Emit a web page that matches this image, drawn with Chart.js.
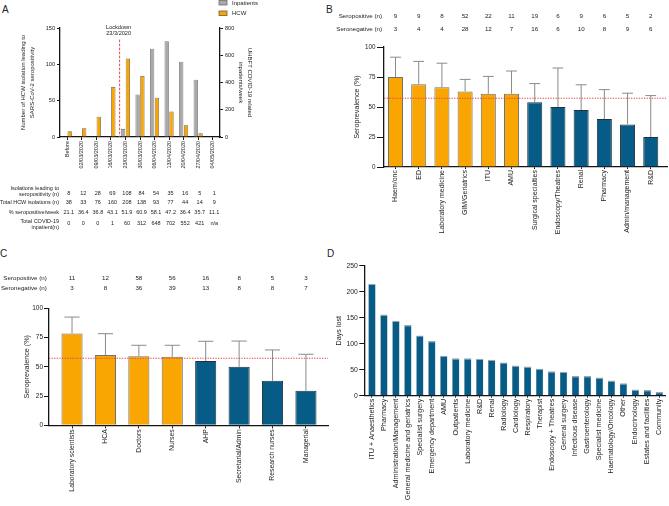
<!DOCTYPE html>
<html><head><meta charset="utf-8">
<script src="https://cdn.jsdelivr.net/npm/chart.js@4.4.1/dist/chart.umd.min.js"></script>
<style>
html,body{margin:0;padding:0;background:#fff;overflow:hidden;width:669px;height:506px;position:relative}
canvas{position:absolute}
.lbl{position:absolute;font-family:'Liberation Sans',Arial,sans-serif;font-size:10px;line-height:10px;color:#222}
</style></head><body>
<div class="lbl" style="left:2px;top:5px">A</div>
<div class="lbl" style="left:326px;top:5px">B</div>
<div class="lbl" style="left:0px;top:249px">C</div>
<div class="lbl" style="left:327px;top:249px">D</div>
<script>
// ---------- DATA ----------
// Panel A
const weekLabels = ['Before','02/03/2020','09/03/2020','16/03/2020','23/03/2020','30/03/2020','06/04/2020','13/04/2020','20/04/2020','27/04/2020','04/05/2020'];
const hcwIsolationsSeropos = [8,12,28,69,108,84,54,35,16,5,1];
const totalHcwIsolations = [38,33,76,160,208,138,93,77,44,14,9];
const pctSeroposWeek = [21.1,36.4,36.8,43.1,51.9,60.9,58.1,47.2,36.4,35.7,11.1];
const inpatientsWeek = [0,0,0,1,60,312,648,702,552,421,null];
const leftTicksA = [0,50,100,150];
const rightTicksA = [0,200,400,600,800];
const LOCKDOWN_AT = 3.6;
// Panel B
const deptLabels = ['Haem/onc','ED','Laboratory medicine','GIM/Geriatrics','ITU','AMU','Surgical specialties','Endoscopy/Theatres','Renal','Pharmacy','Admin/management','R&D'];
const deptSeroprev = [75,69,66.5,63,61,61,54,50,47.5,40,35.5,25];
const deptUpperCI = [91.5,88,86.5,73,75.5,80,69.5,82.5,68.5,64.5,61.5,59.5];
const deptSeropos = [9,9,8,52,22,11,19,6,9,6,5,2];
const deptSeroneg = [3,4,4,28,12,7,16,6,10,8,9,6];
// Panel C
const roleLabels = ['Laboratory scientists','HCA','Doctors','Nurses','AHP','Secretarial/Admin','Research nurses','Managerial'];
const roleSeroprev = [78.5,60,59,58.5,55,50,38,29.5];
const roleUpperCI = [92.5,78.3,68.4,68.4,71.8,72,64.4,60.7];
const roleSeropos = [11,12,58,56,16,8,5,3];
const roleSeroneg = [3,8,36,39,13,8,8,7];
const OVERALL_SEROPREV = 57.3;
const seroTicks = [0,25,50,75,100];
// Panel D
const areaLabels = ['ITU + Anaesthetics','Pharmacy','Administration/Management','General medicine and geriatrics','Specialist surgery','Emergency department','AMU','Outpatients','Laboratory medicine','R&D','Renal','Radiology','Cardiology','Respiratory','Therapist','Endoscopy + Theatres','General surgery','Infectious disease','Gastroenterology','Specialist medicine','Haematology/Oncology','Other','Endocrinology','Estates and facilities','Community'];
const areaDaysLost = [215,156,144,136,116,105,77,72,72,71,69,64,58,56,52,47,46,38,38,35,29,24,12,11,7];
const daysTicks = [0,50,100,150,200,250];

// ---------- STYLE ----------
const FONT = "'Liberation Sans', Arial, Helvetica, sans-serif";
const TEXT = '#1c1c1c';
Chart.defaults.font.family = FONT;
Chart.defaults.color = TEXT;
Chart.defaults.animation = false;
Chart.defaults.plugins.legend.display = false;
Chart.defaults.plugins.tooltip.enabled = false;
const INK = '#141414';
const ORANGE = '#F9A602';
const BLUE = '#065C86';
const GREY = '#A9A9A9';
const REFRED = '#E0464E';

function mkCanvas(left, top, w, h) {
  const c = document.createElement('canvas');
  c.width = w; c.height = h;
  c.style.left = left + 'px'; c.style.top = top + 'px';
  c.style.width = w + 'px'; c.style.height = h + 'px';
  document.body.appendChild(c);
  return c;
}
function txt(ctx, s, x, y, size, align, baseline) {
  ctx.save();
  ctx.font = size + 'px ' + FONT;
  ctx.fillStyle = TEXT;
  ctx.textAlign = align || 'center';
  ctx.textBaseline = baseline || 'middle';
  ctx.fillText(String(s), x, y);
  ctx.restore();
}
function gridOpts(len) {
  return {display: true, drawOnChartArea: false, drawTicks: true, tickLength: len, color: INK, lineWidth: 1, offset: false};
}
const borderOpts = {display: true, color: INK, width: 1.3};
function fixedTicks(vals) { return s => { s.ticks = vals.map(v => ({value: v})); }; }
function catLinearX(labels, min, max, height, fontSize, tickLen) {
  return {
    type: 'linear', min: min, max: max, bounds: 'data', offset: false,
    afterBuildTicks: fixedTicks(labels.map((_, i) => i)),
    ticks: {autoSkip: false, minRotation: 90, maxRotation: 90, font: {size: fontSize}, padding: 1,
      callback: v => labels[v]},
    grid: gridOpts(tickLen), border: borderOpts,
    afterFit: s => { s.height = height; }
  };
}
function valueY(ticks, width, fontSize, tickLen, pad, title, titleSize, titlePad, titleLH) {
  return {
    min: ticks[0], max: ticks[ticks.length - 1],
    afterBuildTicks: fixedTicks(ticks),
    ticks: {font: {size: fontSize}, padding: pad},
    grid: gridOpts(tickLen), border: borderOpts,
    title: {display: true, text: title, font: {size: titleSize, lineHeight: titleLH || 1.2}, padding: {top: titlePad, bottom: 0}},
    afterFit: s => { s.width = width; }
  };
}
const seroColor = c => (c.raw && c.raw.y > OVERALL_SEROPREV) ? ORANGE : BLUE;
const seroBorder = c => (c.raw && c.raw.y > OVERALL_SEROPREV) ? '#707070' : '#22323c';

function seroPlugin(id, upper, pos, neg, rowY, labelX, fontSize) {
  return {
    id: id,
    afterDatasetsDraw(chart) {
      const {ctx, chartArea, scales: {x, y}} = chart;
      const meta = chart.getDatasetMeta(0);
      const vals = chart.data.datasets[0].data;
      ctx.save();
      ctx.strokeStyle = '#8a8a8a'; ctx.lineWidth = 1;
      vals.forEach((d, i) => {
        const px = x.getPixelForValue(d.x);
        const y1 = y.getPixelForValue(d.y);
        const y2 = y.getPixelForValue(upper[i]);
        const half = meta.data[i].width * 0.36;
        ctx.beginPath();
        ctx.moveTo(px, y1); ctx.lineTo(px, y2);
        ctx.moveTo(px - half, y2); ctx.lineTo(px + half, y2);
        ctx.stroke();
      });
      ctx.restore();
      const ry = y.getPixelForValue(OVERALL_SEROPREV);
      ctx.save();
      ctx.strokeStyle = REFRED; ctx.lineWidth = 1; ctx.setLineDash([1.3, 1.3]);
      ctx.beginPath(); ctx.moveTo(chartArea.left, ry); ctx.lineTo(chartArea.right, ry); ctx.stroke();
      ctx.restore();
      txt(ctx, 'Seropositive (n)', labelX, rowY[0], fontSize, 'right');
      txt(ctx, 'Seronegative (n)', labelX, rowY[1], fontSize, 'right');
      vals.forEach((d, i) => {
        const px = x.getPixelForValue(d.x);
        txt(ctx, pos[i], px, rowY[0], fontSize);
        txt(ctx, neg[i], px, rowY[1], fontSize);
      });
    }
  };
}

// ---------- PANEL A ----------
const panelAExtras = {
  id: 'panelAExtras',
  beforeDatasetsDraw(chart) {
    const {ctx, scales: {x, yL}} = chart;
    const lx = x.getPixelForValue(LOCKDOWN_AT);
    ctx.save();
    ctx.strokeStyle = REFRED; ctx.lineWidth = 1; ctx.setLineDash([2.5, 1.5]);
    ctx.beginPath(); ctx.moveTo(lx, yL.getPixelForValue(134)); ctx.lineTo(lx, yL.getPixelForValue(0)); ctx.stroke();
    ctx.restore();
    txt(ctx, 'Lockdown', lx - 1, 27.5, 5.6);
    txt(ctx, '23/3/2020', lx - 1, 33.5, 5.6);
  },
  afterDraw(chart) {
    const {ctx, scales: {x}} = chart;
    const fs = 5.5, lx = 59;
    const rows = [
      {vals: hcwIsolationsSeropos, y: 193.3},
      {vals: totalHcwIsolations, y: 202.3},
      {vals: pctSeroposWeek.map(v => v.toFixed(1)), y: 212.3},
      {vals: inpatientsWeek.map(v => v === null ? 'n/a' : v), y: 223.5}
    ];
    rows.forEach(r => r.vals.forEach((v, i) => txt(ctx, v, x.getPixelForValue(i) + 1.5, r.y, fs)));
    txt(ctx, 'Isolations leading to', lx, 188.5, fs, 'right');
    txt(ctx, 'seropositivity (n)', lx, 194, fs, 'right');
    txt(ctx, 'Total HCW isolations (n)', lx, 202.3, fs, 'right');
    txt(ctx, '% seropositive/week', lx, 212.3, fs, 'right');
    txt(ctx, 'Total COVID-19', lx, 221.7, fs, 'right');
    txt(ctx, 'inpatient(n)', lx, 227, fs, 'right');
    chart.data.datasets.forEach((ds, i) => {
      const by = i === 0 ? 0.5 : 11;
      ctx.save();
      ctx.fillStyle = ds.backgroundColor; ctx.strokeStyle = ds.borderColor; ctx.lineWidth = 0.8;
      ctx.fillRect(219, by, 8, 4.5); ctx.strokeRect(219, by, 8, 4.5);
      ctx.restore();
      txt(ctx, ds.label, 232, by + 2.5, 6, 'left');
    });
  }
};
new Chart(mkCanvas(0, 0, 330, 250), {
  type: 'bar',
  data: {
    labels: weekLabels,
    datasets: [
      {label: 'Inpatients', data: inpatientsWeek, yAxisID: 'yR', backgroundColor: GREY, borderColor: '#6e6e6e', borderWidth: 0.8,
        barPercentage: 0.9, categoryPercentage: 0.66},
      {label: 'HCW', data: hcwIsolationsSeropos, yAxisID: 'yL', backgroundColor: ORANGE, borderColor: '#6e5e40', borderWidth: 0.8,
        barPercentage: 0.9, categoryPercentage: 0.66}
    ]
  },
  options: {
    responsive: false,
    layout: {padding: {top: 28, left: 0, right: 0, bottom: 0}},
    scales: {
      x: {type: 'category', offset: true, grid: gridOpts(3), border: borderOpts,
        ticks: {autoSkip: false, minRotation: 90, maxRotation: 90, font: {size: 5.5}, padding: 1},
        afterFit: s => { s.height = 113; }},
      yL: Object.assign(valueY(leftTicksA, 60, 5.6, 3, 2, ['Number of HCW isolation leading to', 'SARS-CoV-2 seropositivity'], 6, 18.5, 1.5), {position: 'left'}),
      yR: Object.assign(valueY(rightTicksA, 110, 5.6, 3, 2, ['UHBFT COVID-19 related', 'inpatients/week'], 6, 75.5, 1.5), {position: 'right'})
    }
  },
  plugins: [panelAExtras]
});

// ---------- PANEL B ----------
new Chart(mkCanvas(330, 0, 339, 250), {
  type: 'bar',
  data: {datasets: [{data: deptSeroprev.map((v, i) => ({x: i, y: v})), backgroundColor: seroColor, borderColor: seroBorder,
    borderWidth: 1, barPercentage: 0.81, categoryPercentage: 0.8}]},
  options: {
    responsive: false,
    layout: {padding: {top: 47, left: 0, right: 2, bottom: 0}},
    scales: {
      x: catLinearX(deptLabels, -0.496, 11.7, 83, 7, 2),
      y: valueY(seroTicks, 54, 6.3, 7, 1.5, 'Seroprevalence (%)', 7.2, 22.5)
    }
  },
  plugins: [seroPlugin('seroB', deptUpperCI, deptSeropos, deptSeroneg, [16.7, 29.3], 52, 6.2)]
});

// ---------- PANEL C ----------
new Chart(mkCanvas(0, 250, 330, 256), {
  type: 'bar',
  data: {datasets: [{data: roleSeroprev.map((v, i) => ({x: i, y: v})), backgroundColor: seroColor, borderColor: seroBorder,
    borderWidth: 1, barPercentage: 0.79, categoryPercentage: 0.8}]},
  options: {
    responsive: false,
    layout: {padding: {top: 58.3, left: 0, right: 2, bottom: 0}},
    scales: {
      x: catLinearX(roleLabels, -0.689, 7.66, 80.7, 6.8, 3),
      y: valueY(seroTicks, 49, 6.5, 5, 1, 'Seroprevalence (%)', 7.2, 22.8)
    }
  },
  plugins: [seroPlugin('seroC', roleUpperCI, roleSeropos, roleSeroneg, [28.3, 38.3], 46.7, 6.2)]
});

// ---------- PANEL D ----------
new Chart(mkCanvas(330, 250, 339, 256), {
  type: 'bar',
  data: {datasets: [{data: areaDaysLost.map((v, i) => ({x: i, y: v})), backgroundColor: BLUE, borderColor: '#9aa4aa',
    borderWidth: {top: 1.2, left: 0.4, right: 0.4, bottom: 0}, barPercentage: 0.77, categoryPercentage: 0.8}]},
  options: {
    responsive: false,
    layout: {padding: {top: 15.7, left: 0, right: 2, bottom: 0}},
    scales: {
      x: catLinearX(areaLabels, -0.64, 24.54, 110.3, 7.2, 2),
      y: valueY(daysTicks, 34.3, 6.8, 5, 1.5, 'Days lost', 7.2, 4.3)
    }
  }
});
</script>
</body></html>
